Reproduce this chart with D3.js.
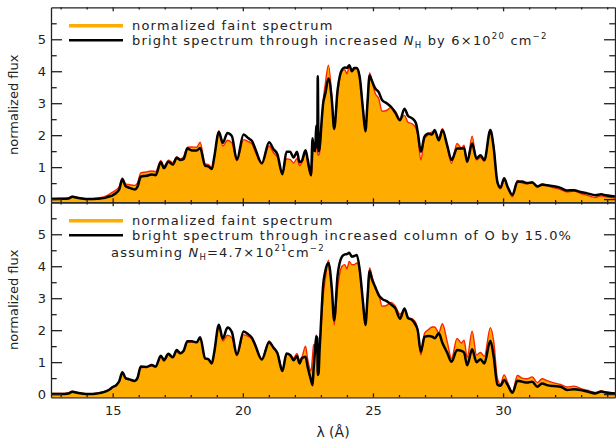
<!DOCTYPE html>
<html><head><meta charset="utf-8">
<script src="https://cdn.jsdelivr.net/npm/d3@7"></script>
<style>
body{margin:0;background:#fff}
text{font-family:"DejaVu Sans",sans-serif;fill:#222}
</style>
</head><body>
<svg id="c" width="616" height="441"></svg>
<script>
// wavelength grid (Å)
const lambda = [
12.63,13.00,13.30,13.45,13.60,13.80,14.10,14.40,14.65,14.85,
15.00,15.15,15.25,15.37,15.50,15.65,15.85,15.95,16.08,16.30,
16.50,16.65,16.85,16.97,17.14,17.31,17.46,17.59,17.72,17.87,
18.04,18.23,18.36,18.55,18.68,18.81,18.90,19.08,19.23,19.41,
19.58,19.77,20.03,20.22,20.35,20.47,20.73,21.01,21.18,21.33,
21.52,21.68,21.82,21.95,22.08,22.18,22.27,22.41,22.49,22.62,
22.68,22.72,22.78,22.82,22.86,22.88,22.91,22.95,23.04,23.08,
23.17,23.29,23.42,23.51,23.64,23.81,23.92,24.00,24.09,24.19,
24.28,24.38,24.49,24.62,24.71,24.79,24.87,24.96,25.09,25.22,
25.35,25.54,25.70,25.86,26.04,26.21,26.35,26.52,26.65,26.72,
26.84,26.98,27.14,27.27,27.37,27.53,27.67,27.85,28.02,28.23,
28.40,28.50,28.62,28.81,28.98,29.13,29.28,29.51,29.64,29.78,
29.90,30.04,30.18,30.36,30.55,30.73,30.92,31.12,31.31,31.50,
31.69,31.95,32.21,32.46,32.72,32.97,33.23,33.55,33.77,33.94,34.30];

// normalized faint spectrum
const faint = [
0.02,0.02,0.04,0.09,0.06,0.03,0.01,0.03,0.07,0.14,
0.22,0.30,0.38,0.66,0.48,0.45,0.43,0.50,0.82,0.85,
0.88,0.86,1.20,1.02,1.22,1.14,1.32,1.26,1.32,1.62,
1.63,1.62,1.78,1.10,1.08,0.98,1.30,2.14,1.66,1.84,
1.76,1.20,1.86,1.80,1.73,1.50,1.10,1.66,1.45,1.30,
0.80,1.26,1.24,1.13,1.27,1.05,1.15,1.50,1.10,0.72,
1.20,1.55,1.50,1.85,1.50,1.40,1.37,1.45,2.50,3.00,
3.60,4.19,3.20,2.17,3.30,4.00,4.05,3.92,4.15,4.05,
4.05,4.10,3.85,2.80,2.15,3.10,3.95,3.70,3.30,3.15,
2.75,2.78,2.87,2.75,2.50,2.62,2.40,2.35,2.22,2.00,
1.22,1.90,2.02,2.10,2.10,1.92,2.20,1.65,1.12,1.74,
1.60,1.69,1.15,1.97,1.22,1.30,1.18,2.08,1.65,0.50,
0.32,0.60,0.35,0.07,0.58,0.50,0.48,0.54,0.36,0.48,
0.42,0.35,0.30,0.22,0.25,0.18,0.12,0.05,0.10,0.07,0.03];

// bright spectrum through increased N_H by 6e20 (top panel)
const brightTop = [
0.00,0.01,0.02,0.07,0.05,0.02,0.00,0.01,0.03,0.08,
0.12,0.20,0.30,0.62,0.40,0.35,0.30,0.38,0.70,0.73,
0.77,0.75,1.16,0.97,1.17,1.08,1.29,1.22,1.25,1.58,
1.52,1.52,1.60,1.05,1.02,0.94,1.30,2.10,1.76,2.07,
1.97,1.23,2.02,1.90,1.82,1.59,1.12,1.78,1.56,1.40,
0.78,1.48,1.48,1.30,1.48,1.15,1.20,1.53,1.25,0.75,
1.90,1.55,1.50,2.30,1.60,3.84,1.50,1.60,2.57,2.95,
3.30,3.77,3.10,2.20,3.40,4.05,4.12,4.10,4.19,4.00,
4.10,4.10,3.82,2.78,2.12,3.00,3.87,3.70,3.46,3.35,
3.10,2.99,2.88,2.70,2.47,2.83,2.60,2.52,2.38,2.10,
1.48,1.95,2.05,2.02,2.16,1.84,2.16,1.69,1.22,1.58,
1.58,1.60,1.17,1.74,1.27,1.37,1.22,2.16,1.60,0.54,
0.36,0.65,0.37,0.13,0.54,0.55,0.50,0.52,0.40,0.45,
0.43,0.40,0.35,0.27,0.28,0.22,0.18,0.12,0.15,0.12,0.08];

// bright spectrum through increased O column by 15% (bottom panel)
const brightBottom = [
0.00,0.00,0.02,0.07,0.05,0.02,0.00,0.02,0.06,0.13,
0.22,0.29,0.40,0.68,0.50,0.46,0.41,0.50,0.86,0.85,
0.91,0.86,1.20,1.07,1.26,1.15,1.38,1.28,1.35,1.65,
1.65,1.62,1.78,1.12,1.09,0.96,1.30,2.17,1.73,2.08,
1.94,1.23,1.96,1.86,1.76,1.55,1.08,1.62,1.45,1.28,
0.72,1.27,1.22,1.06,1.19,0.96,1.12,1.17,0.86,0.44,
0.28,0.80,1.40,1.80,1.75,0.60,0.65,1.38,2.80,3.35,
3.85,4.10,3.30,2.31,3.70,4.30,4.37,4.38,4.42,4.30,
4.32,4.35,3.90,2.85,2.16,3.00,3.85,3.60,3.35,3.10,
2.98,2.90,2.80,2.68,2.36,2.68,2.38,2.31,2.15,2.00,
1.32,1.79,1.82,1.80,1.75,1.90,1.60,1.30,1.01,1.38,
1.35,1.30,0.90,1.40,1.00,1.09,0.96,1.67,1.17,0.30,
0.26,0.44,0.28,0.04,0.42,0.39,0.36,0.39,0.23,0.33,
0.28,0.25,0.23,0.13,0.15,0.13,0.08,0.02,0.08,0.05,0.02];

const xTicks = [15, 20, 25, 30];
const xMinor = [13,14,16,17,18,19,21,22,23,24,26,27,28,29,31,32,33,34];
const yTicks = [0, 1, 2, 3, 4, 5];
const yMinor = [0.5, 1.5, 2.5, 3.5, 4.5, 5.5];
const xDomain = [12.63, 34.30];
const yDomain = [-0.1, 6.0];

const legendFaint = "normalized faint spectrum";
const legendTop = [["bright spectrum through increased ",""],["N","i"],["H","sub"],[" by 6×10",""],["20","sup"],[" cm",""],["−2","sup"]];
const legendBottom = [["bright spectrum through increased column of O by 15.0%",""]];
const legendBottom2 = [["assuming ",""],["N","i"],["H","sub"],["=4.7×10",""],["21","sup"],["cm",""],["−2","sup"]];

const svg = d3.select("#c");
const L = 51, R = 615;
const panels = [
  {top: 7.3, bottom: 202.3, bright: brightTop, legend: legendTop, extra: null, xlabels: false},
  {top: 202.3, bottom: 397.3, bright: brightBottom, legend: legendBottom, extra: legendBottom2, xlabels: true}
];
const x = d3.scaleLinear().domain(xDomain).range([L, R]);
const ORANGE = "#ffac00", RED = "#ff2200";

function richText(g, xPos, yPos, segs, ls) {
  const t = g.append("text").attr("x", xPos).attr("y", yPos)
    .attr("font-size", 13).attr("letter-spacing", ls);
  let shift = 0;
  segs.forEach(([s, k]) => {
    const ts = t.append("tspan").text(s);
    let target = 0;
    if (k === "sub") { target = 3; ts.attr("font-size", 8.5); }
    else if (k === "sup") { target = -6; ts.attr("font-size", 8.5); }
    else if (k === "i") { ts.attr("font-style", "italic"); }
    if (target !== shift) { ts.attr("dy", target - shift); shift = target; }
  });
  return t;
}

panels.forEach((p, i) => {
  const y = d3.scaleLinear().domain(yDomain).range([p.bottom, p.top]);
  const g = svg.append("g");
  const cid = "clip" + i;
  svg.append("defs").append("clipPath").attr("id", cid)
    .append("rect").attr("x", L).attr("y", p.top).attr("width", R - L).attr("height", p.bottom - p.top);
  const data = lambda.map((l, j) => ({l, f: faint[j], b: p.bright[j]}));
  const area = d3.area().x(d => x(d.l)).y0(y(yDomain[0])).y1(d => y(d.f)).curve(d3.curveMonotoneX);
  const lineF = d3.line().x(d => x(d.l)).y(d => y(d.f)).curve(d3.curveMonotoneX);
  const lineB = d3.line().x(d => x(d.l)).y(d => y(d.b)).curve(d3.curveMonotoneX);
  const cg = g.append("g").attr("clip-path", `url(#${cid})`);
  cg.append("path").datum(data).attr("d", area).attr("fill", ORANGE);
  cg.append("path").datum(data).attr("d", lineF).attr("fill", "none").attr("stroke", RED).attr("stroke-width", 1.4);
  cg.append("path").datum(data).attr("d", lineB).attr("fill", "none").attr("stroke", "#000").attr("stroke-width", 2.5).attr("stroke-linejoin", "round");

  // axes
  const ax = g.append("g").attr("class", "axes");
  const style = sel => { sel.selectAll("path,line").attr("stroke", "#222").attr("stroke-width", 1.3); };
  // bottom
  ax.append("g").attr("transform", `translate(0,${p.bottom})`)
    .call(d3.axisBottom(x).tickValues(xTicks).tickSizeInner(-4).tickSizeOuter(0).tickPadding(8)
      .tickFormat(p.xlabels ? d3.format("d") : () => "")).call(style)
    .call(s => s.selectAll("text").attr("font-size", 13).attr("font-family", "DejaVu Sans").attr("fill", "#222"));
  ax.append("g").attr("transform", `translate(0,${p.bottom})`)
    .call(d3.axisBottom(x).tickValues(xMinor).tickSizeInner(-2.3).tickSizeOuter(0).tickFormat(() => "")).call(style)
    .call(s => s.select(".domain").remove());
  // top
  ax.append("g").attr("transform", `translate(0,${p.top})`)
    .call(d3.axisTop(x).tickValues(xTicks).tickSizeInner(-4).tickSizeOuter(0).tickFormat(() => "")).call(style);
  ax.append("g").attr("transform", `translate(0,${p.top})`)
    .call(d3.axisTop(x).tickValues(xMinor).tickSizeInner(-2.3).tickSizeOuter(0).tickFormat(() => "")).call(style)
    .call(s => s.select(".domain").remove());
  // left
  ax.append("g").attr("transform", `translate(${L},0)`)
    .call(d3.axisLeft(y).tickValues(yTicks).tickSizeInner(-11).tickSizeOuter(0).tickPadding(5).tickFormat(d3.format("d"))).call(style)
    .call(s => s.selectAll("text").attr("font-size", 13).attr("font-family", "DejaVu Sans").attr("fill", "#222"));
  ax.append("g").attr("transform", `translate(${L},0)`)
    .call(d3.axisLeft(y).tickValues(yMinor).tickSizeInner(-5.7).tickSizeOuter(0).tickFormat(() => "")).call(style)
    .call(s => s.select(".domain").remove());
  // right
  ax.append("g").attr("transform", `translate(${R},0)`)
    .call(d3.axisRight(y).tickValues(yTicks).tickSizeInner(-11).tickSizeOuter(0).tickFormat(() => "")).call(style);
  ax.append("g").attr("transform", `translate(${R},0)`)
    .call(d3.axisRight(y).tickValues(yMinor).tickSizeInner(-5.7).tickSizeOuter(0).tickFormat(() => "")).call(style)
    .call(s => s.select(".domain").remove());

  // y label
  g.append("text").attr("transform", `translate(18,${(p.top + p.bottom) / 2}) rotate(-90)`)
    .attr("text-anchor", "middle").attr("font-size", 13).text("normalized flux");

  // legend
  const ly1 = p.top + 18.4, ly2 = ly1 + 14.6;
  g.append("line").attr("x1", 69).attr("x2", 123).attr("y1", ly1).attr("y2", ly1).attr("stroke", ORANGE).attr("stroke-width", 3.5);
  g.append("line").attr("x1", 69).attr("x2", 123).attr("y1", ly2).attr("y2", ly2).attr("stroke", "#000").attr("stroke-width", 2.5);
  richText(g, 132, ly1 + 4.5, [[legendFaint, ""]], 1.2);
  richText(g, 132, ly2 + 4.5, p.legend, 1.2);
  if (p.extra) richText(g, 111, ly2 + 21.5, p.extra, 1.2);
});

svg.append("text").attr("x", 333).attr("y", 437).attr("text-anchor", "middle").attr("font-size", 14).text("λ (Å)");
</script>
</body></html>
